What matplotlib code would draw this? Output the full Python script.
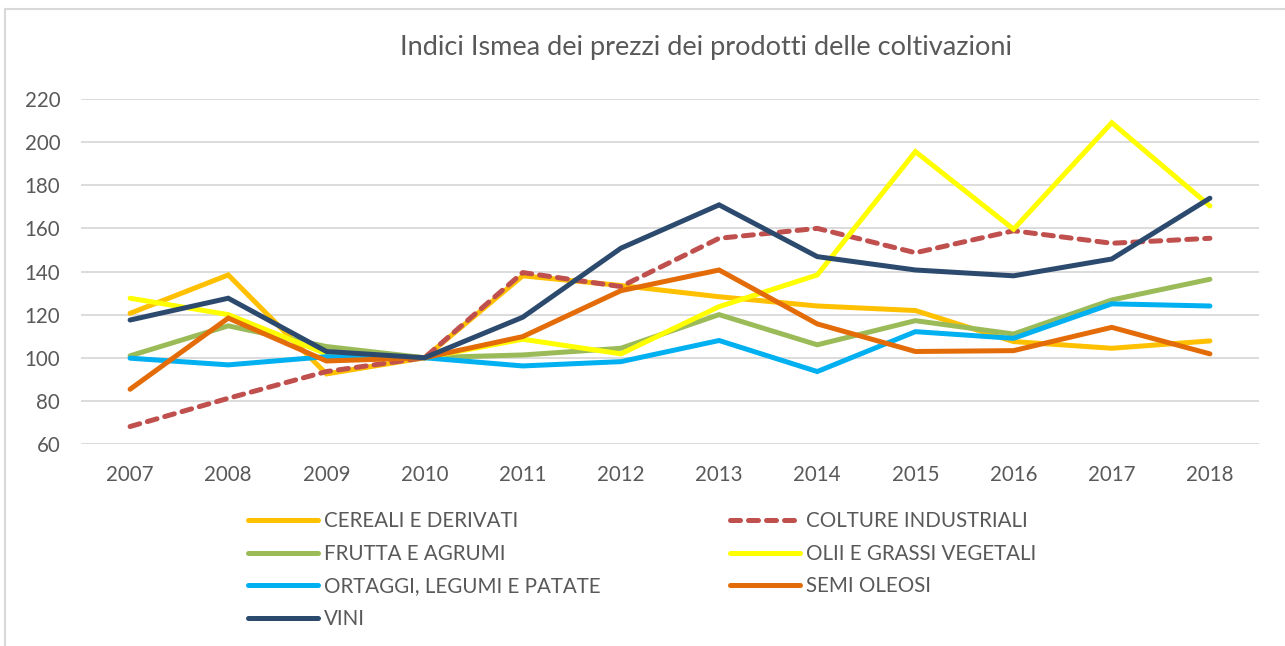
import matplotlib
matplotlib.use("Agg")
import matplotlib.pyplot as plt
from matplotlib.lines import Line2D

plt.rcParams['font.family'] = ['Lato', 'DejaVu Sans']

years = ["2007", "2008", "2009", "2010", "2011", "2012", "2013", "2014", "2015", "2016", "2017", "2018"]

cereali = [120.6, 138.4, 92.5, 100, 138.0, 133.5, 128.3, 124.0, 121.9, 107.5, 104.4, 107.8]
colture = [68.1, 81.2, 93.6, 100, 139.5, 133.0, 155.4, 160.0, 148.7, 158.9, 153.1, 155.4]
frutta = [100.9, 114.8, 105.2, 100, 101.3, 104.4, 120.0, 106.0, 117.2, 111.0, 126.8, 136.4]
olii = [127.6, 120.0, 101.8, 100, 108.6, 101.8, 123.7, 138.4, 195.6, 159.6, 209.0, 170.4]
ortaggi = [99.8, 96.7, 100.5, 100, 96.2, 98.2, 108.0, 93.6, 112.1, 109.0, 125.0, 124.0]
semi = [85.4, 118.4, 98.5, 100, 109.8, 131.1, 140.7, 115.7, 102.9, 103.3, 114.1, 101.8]
vini = [117.5, 127.6, 102.9, 100, 118.8, 150.8, 170.9, 146.9, 140.7, 138.0, 145.8, 174.0]

labels = ["CEREALI E DERIVATI", "COLTURE INDUSTRIALI", "FRUTTA E AGRUMI",
          "OLII E GRASSI VEGETALI", "ORTAGGI, LEGUMI E PATATE", "SEMI OLEOSI", "VINI"]
colors = ["#FFC000", "#C0504D", "#9BBB59", "#FFFF00", "#00B0F0", "#E36C09", "#2C4A6E"]
series = [cereali, colture, frutta, olii, ortaggi, semi, vini]
yticks = [60, 80, 100, 120, 140, 160, 180, 200, 220]

fig = plt.figure(figsize=(12.85, 6.46), dpi=100)
ax = fig.add_axes([81/1285, 1-444/646, (1259-81)/1285, (444-99)/646])

x = list(range(len(years)))
handles = {}
for lab, col, vals in zip(labels, colors, series):
    if lab == "COLTURE INDUSTRIALI":
        ln, = ax.plot(x, vals, color=col, lw=3.6, ls=(0, (2.0, 1.6)),
                      solid_capstyle='round', dash_capstyle='round', zorder=3)
    else:
        ln, = ax.plot(x, vals, color=col, lw=3.6, solid_capstyle='round',
                      solid_joinstyle='miter', zorder=3)
    handles[lab] = ln

handles["VINI"].set_zorder(4)

ax.set_xlim(-0.5, len(years) - 0.5)
ax.set_ylim(60, 220)
ax.set_yticks(yticks)
ax.set_xticks(x)
ax.set_xticklabels(years)
ax.grid(axis='y', color='#D9D9D9', lw=1.3, zorder=0)
ax.set_axisbelow(True)
for s in ax.spines.values():
    s.set_visible(False)
ax.tick_params(axis='both', length=0, labelsize=14.8, colors='#595959')
ax.tick_params(axis='x', pad=15)
ax.tick_params(axis='y', pad=15)

fig.text(706/1285, 1-48/646, "Indici Ismea dei prezzi dei prodotti delle coltivazioni",
         ha='center', va='center', fontsize=19.5, color='#595959')

order = ["CEREALI E DERIVATI", "FRUTTA E AGRUMI", "ORTAGGI, LEGUMI E PATATE", "VINI",
         "COLTURE INDUSTRIALI", "OLII E GRASSI VEGETALI", "SEMI OLEOSI"]
leg = fig.legend([handles[o] for o in order], order, ncol=2, loc='upper left',
                 bbox_to_anchor=(248/1285, 1-511/646), frameon=False, fontsize=14.8,
                 handlelength=3.4, handletextpad=0.3, columnspacing=6.3,
                 labelspacing=0.62, borderaxespad=0, borderpad=0)
for t in leg.get_texts():
    t.set_color('#595959')

fig.add_artist(Line2D([5/1285, 5/1285], [0, 1-9/646], color='#D9D9D9', lw=1.5))
fig.add_artist(Line2D([5/1285, 1], [1-9/646, 1-9/646], color='#D9D9D9', lw=1.5))

fig.savefig("out.png", dpi=100)
